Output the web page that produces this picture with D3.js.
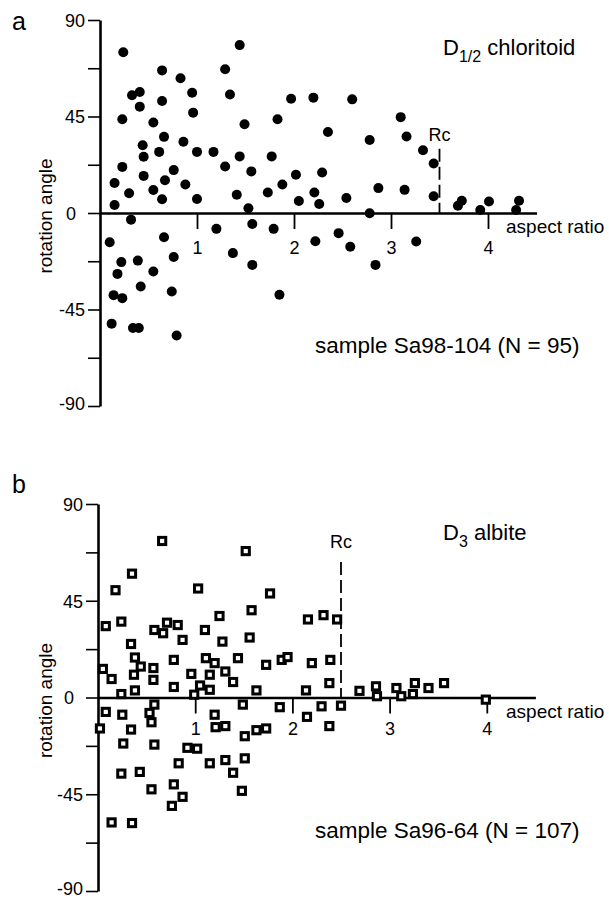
<!DOCTYPE html>
<html>
<head>
<meta charset="utf-8">
<script src="https://cdn.jsdelivr.net/npm/d3@7"></script>
<style>
  body { margin: 0; background: #fff; }
  svg text { font-family: "Liberation Sans", Arial, Helvetica, sans-serif; fill: #000; }
</style>
</head>
<body>
<div id="chart"></div>
<script>
// panel a: D1/2 chloritoid, sample Sa98-104
const chloritoidRatio = [
  0.24, 0.15, 0.15, 0.23, 0.23, 0.30, 0.33, 0.41, 0.41, 0.44, 0.45, 0.45, 0.55, 0.55, 0.61, 0.64,
  0.64, 0.64, 0.66, 0.67, 0.76, 0.83, 0.86, 0.88, 0.95, 0.96, 1.00, 1.00, 1.17, 1.29, 1.29, 1.34,
  1.41, 1.44, 1.44, 1.49, 1.53, 1.56, 1.73, 1.77, 1.83, 1.88, 1.97, 2.02, 2.05, 2.20, 2.21, 2.26,
  2.29, 2.35, 2.54, 2.60, 2.78, 2.78, 2.87, 3.10, 3.14, 3.16, 3.33, 3.44, 3.44, 3.69, 3.73, 3.92,
  4.01, 4.29, 4.32, 0.32, 0.10, 0.22, 0.18, 0.14, 0.23, 0.12, 0.34, 0.40, 0.39, 0.42, 0.55, 0.66,
  0.76, 0.74, 0.79, 1.20, 1.37, 1.57, 1.57, 1.79, 1.85, 2.22, 2.46, 2.58, 2.84, 3.26
];
const chloritoidAngle = [
  75.0, 14.0, 3.7, 43.7, 21.5, 9.2, 54.9, 56.4, 49.6, 31.6, 26.2, 17.3, 42.2, 10.7, 28.5, 66.5,
  52.2, 6.4, 35.5, 15.3, 20.0, 62.8, 33.2, 13.3, 56.1, 46.8, 28.5, 6.5, 28.5, 67.0, 21.7, 55.3,
  8.5, 26.4, 78.3, 41.4, 2.2, 19.4, 9.6, 26.4, 43.7, 13.3, 53.3, 17.8, 5.6, 53.8, 9.6, 4.2,
  18.9, 37.8, 7.0, 53.0, 34.0, -0.1, 11.6, 44.7, 10.8, 35.7, 29.3, 23.1, 7.8, 3.4, 5.7, 1.4,
  5.4, 1.4, 5.7, -3.1, -13.6, -22.9, -28.4, -38.3, -39.7, -51.6, -53.6, -53.6, -22.2, -34.3, -27.3, -11.3,
  -20.5, -36.6, -57.1, -7.4, -18.7, -5.1, -24.2, -7.4, -38.1, -13.2, -9.4, -15.7, -24.2, -13.3
];

// panel b: D3 albite, sample Sa96-64
const albiteRatio = [
  0.66, 1.52, 0.35, 0.18, 1.03, 1.77, 1.58, 0.08, 0.24, 1.25, 0.58, 0.67, 0.71, 0.82, 0.87, 1.10,
  1.28, 1.56, 0.34, 0.38, 0.44, 0.37, 0.57, 0.57, 0.05, 0.14, 0.24, 0.38, 0.78, 0.78, 0.96, 0.99,
  1.05, 1.11, 1.20, 1.15, 1.15, 1.31, 1.39, 1.44, 1.63, 1.73, 1.89, 1.95, 0.08, 0.02, 0.25, 0.34,
  0.58, 0.53, 0.55, 0.26, 0.58, 1.20, 1.21, 1.31, 1.49, 1.51, 1.63, 1.73, 1.87, 0.92, 1.02, 0.24,
  0.43, 0.55, 0.83, 0.78, 0.87, 0.76, 1.15, 1.31, 1.39, 1.51, 1.48, 0.14, 0.35, 2.16, 2.32, 2.46,
  2.20, 2.39, 2.38, 2.14, 2.30, 2.15, 2.38, 2.50, 2.69, 2.86, 2.87, 3.07, 3.12, 3.26, 3.24, 3.40,
  3.56, 3.99
];
const albiteAngle = [
  72.8, 68.1, 57.6, 49.9, 50.7, 48.4, 40.6, 33.2, 35.3, 37.9, 31.4, 29.9, 34.8, 33.7, 26.8, 31.4,
  26.0, 27.9, 24.9, 18.6, 14.4, 10.6, 13.7, 8.2, 13.3, 8.6, 1.6, 3.3, 17.5, 4.9, 11.0, 1.3,
  5.6, 18.3, 16.0, 10.6, 3.6, 12.1, 7.2, 18.3, 3.3, 15.2, 17.5, 18.8, -6.7, -14.4, -8.0, -14.9,
  -3.3, -7.2, -11.5, -21.4, -21.9, -8.0, -13.8, -13.3, -3.3, -18.0, -15.2, -14.4, -4.5, -23.4, -23.8, -35.4,
  -34.6, -42.7, -30.6, -40.4, -46.2, -50.4, -30.6, -29.1, -35.0, -28.3, -43.4, -58.1, -58.4, 36.3, 38.3, 36.3,
  16.0, 17.5, 6.7, 3.3, -4.1, -9.0, -13.3, -3.8, 3.1, 5.2, 0.6, 4.4, 0.6, 6.7, 1.6, 4.4,
  6.7, -1.0
];

const yTicks = [-90, -67.5, -45, -22.5, 0, 22.5, 45, 67.5, 90];
const yLabels = [-90, -45, 0, 45, 90];
const xTicks = [1, 2, 3, 4];

const width = 609;
const height = 900;
const font = 18;

const svg = d3.select("#chart")
  .append("svg")
  .attr("width", width)
  .attr("height", height)
  .attr("viewBox", [0, 0, width, height]);

function drawPanel(p) {
  const x = d3.scaleLinear().domain([0, 4.5]).range([p.x0, p.x1]);
  const y = d3.scaleLinear().domain([-90, 90]).range([p.yBottom, p.yTop]);
  const y0 = y(0);
  const g = svg.append("g");

  // y axis
  const ya = g.append("g")
    .attr("transform", `translate(${x(0)},0)`)
    .call(d3.axisLeft(y)
      .tickValues(yTicks)
      .tickSize(12)
      .tickSizeOuter(0)
      .tickPadding(3)
      .tickFormat((d) => (yLabels.includes(d) ? d : "")));
  ya.select(".domain").attr("stroke-width", 2.6);
  ya.selectAll(".tick line").attr("stroke-width", 1.6);
  ya.selectAll(".tick text")
    .attr("font-size", font)
    .attr("font-family", null)
    .attr("dy", (d) => (d === -90 ? "0.2em" : "0.36em"))
    .attr("dx", (d) => (d === 0 ? -9 : 0));

  // x axis along zero line
  const xa = g.append("g")
    .attr("transform", `translate(0,${y0})`)
    .call(d3.axisBottom(x)
      .tickValues(xTicks)
      .tickSize(16)
      .tickSizeOuter(0)
      .tickPadding(p.xPad)
      .tickFormat(d3.format("d")));
  xa.select(".domain").attr("stroke-width", 2.6);
  xa.selectAll(".tick line").attr("stroke-width", 1.8);
  xa.selectAll(".tick text").attr("font-size", font).attr("font-family", null);

  // Rc dashed line
  g.append("line")
    .attr("x1", x(p.rc)).attr("x2", x(p.rc))
    .attr("y1", y(p.rcTop)).attr("y2", y0)
    .attr("stroke", "#000")
    .attr("stroke-width", 1.8)
    .attr("stroke-dasharray", "13,5");
  g.append("text")
    .attr("x", x(p.rc))
    .attr("y", y(p.rcTop) - p.rcGap)
    .attr("text-anchor", "middle")
    .attr("font-size", font)
    .text("Rc");

  // marks
  const pts = d3.zip(p.ratio, p.angle);
  if (p.mark === "dot") {
    g.selectAll(".pt").data(pts).enter().append("circle")
      .attr("class", "pt")
      .attr("cx", (d) => x(d[0]))
      .attr("cy", (d) => y(d[1]))
      .attr("r", 5)
      .attr("fill", "#000");
  } else {
    g.selectAll(".pt").data(pts).enter().append("rect")
      .attr("class", "pt")
      .attr("x", (d) => x(d[0]) - 3.6)
      .attr("y", (d) => y(d[1]) - 3.6)
      .attr("width", 7.2)
      .attr("height", 7.2)
      .attr("fill", "#fff")
      .attr("stroke", "#000")
      .attr("stroke-width", 3);
  }

  // labels
  g.append("text")
    .attr("x", 12).attr("y", p.letterY)
    .attr("font-size", 25)
    .text(p.letter);

  const t = g.append("text")
    .attr("x", 443).attr("y", y0 - 158)
    .attr("font-size", 22);
  t.append("tspan").text("D");
  t.append("tspan").attr("font-size", 16).attr("dy", 7).text(p.sub);
  t.append("tspan").attr("dy", -7).text(" " + p.mineral);

  g.append("text")
    .attr("x", 506).attr("y", y0 + 20)
    .attr("font-size", 19)
    .text("aspect ratio");

  g.append("text")
    .attr("x", 315).attr("y", y0 + 140)
    .attr("font-size", 22.5)
    .text(p.sample);

  g.append("text")
    .attr("transform", `translate(52,${y0 + 3}) rotate(-90)`)
    .attr("text-anchor", "middle")
    .attr("font-size", 19)
    .text("rotation angle");
}

drawPanel({
  x0: 100, x1: 536.5, yTop: 20, yBottom: 406, xPad: 12,
  ratio: chloritoidRatio, angle: chloritoidAngle, mark: "dot",
  rc: 3.5, rcTop: 30, rcGap: 8,
  letter: "a", letterY: 30, sub: "1/2", mineral: "chloritoid",
  sample: "sample Sa98-104 (N = 95)"
});

drawPanel({
  x0: 98, x1: 535.4, yTop: 504, yBottom: 891, xPad: 9,
  ratio: albiteRatio, angle: albiteAngle, mark: "square",
  rc: 2.5, rcTop: 63, rcGap: 14,
  letter: "b", letterY: 493, sub: "3", mineral: "albite",
  sample: "sample Sa96-64 (N = 107)"
});
</script>
</body>
</html>
